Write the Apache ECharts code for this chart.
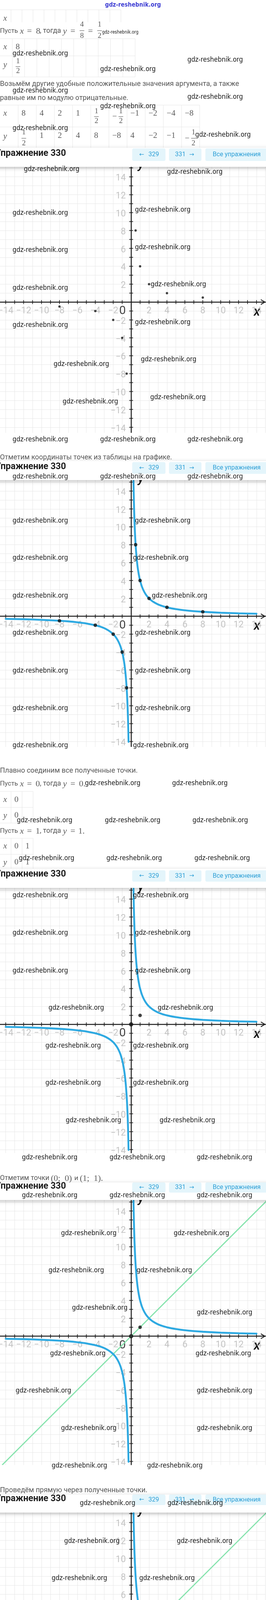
<!DOCTYPE html>
<html lang="ru"><head><meta charset="utf-8"><title>Упражнение 330</title>
<script src="https://cdn.jsdelivr.net/npm/echarts@6.0.0/dist/echarts.min.js"></script>
<style>html,body{margin:0;padding:0;background:#fff}.part{width:680px;display:block}</style>
</head><body><div id="p0" class="part" style="height:2990px"></div><div id="p1" class="part" style="height:2444px"></div>
<script>
// ---------------- DATA ----------------
const tableX = [8, 4, 2, 1, 0.5, -0.5, -1, -2, -4, -8];
const tableY = [0.5, 1, 2, 4, 8, -8, -4, -2, -1, -0.5];
const hyperPosX = [0.245, 0.26, 0.28, 0.3, 0.33, 0.36, 0.4, 0.45, 0.5, 0.6, 0.7, 0.8, 0.9, 1, 1.2, 1.4, 1.6, 1.8, 2, 2.3, 2.6, 3, 3.5, 4, 5, 6, 7, 8, 10, 12, 14];
const hyperPosY = [16.33, 15.38, 14.29, 13.33, 12.12, 11.11, 10, 8.89, 8, 6.67, 5.71, 5, 4.44, 4, 3.33, 2.86, 2.5, 2.22, 2, 1.74, 1.54, 1.33, 1.14, 1, 0.8, 0.67, 0.57, 0.5, 0.4, 0.33, 0.29];
const hyperNegX = [-14, -12, -10, -8, -7, -6, -5, -4, -3.5, -3, -2.6, -2.3, -2, -1.8, -1.6, -1.4, -1.2, -1, -0.9, -0.8, -0.7, -0.6, -0.5, -0.45, -0.4, -0.36, -0.33, -0.3, -0.285];
const hyperNegY = [-0.29, -0.33, -0.4, -0.5, -0.57, -0.67, -0.8, -1, -1.14, -1.33, -1.54, -1.74, -2, -2.22, -2.5, -2.86, -3.33, -4, -4.44, -5, -5.71, -6.67, -8, -8.89, -10, -11.11, -12.12, -13.33, -14.04];
const lineX = [-14.4, 15.5];
const lineY = [-14.4, 15.5];
const markX = [0, 1];
const markY = [0, 1];
const interX = [2, -2];
const interY = [2, -2];
const interNames = ['A(2;2)', 'B(-2;-2)'];
const xTicks = [-14, -13, -12, -11, -10, -9, -8, -7, -6, -5, -4, -3, -2, -1, 1, 2, 3, 4, 5, 6, 7, 8, 9, 10, 11, 12, 13, 14];
const yTicks = [-14, -13, -12, -11, -10, -9, -8, -7, -6, -5, -4, -3, -2, -1, 1, 2, 3, 4, 5, 6, 7, 8, 9, 10, 11, 12, 13, 14, 15, 16];
const xLabelVals = [-14, -12, -10, -8, -6, -4, -2, 2, 4, 6, 8, 10, 12, 14];
const yLabelVals = [-14, -12, -10, -8, -6, -4, -2, 2, 4, 6, 8, 10, 12, 14, 16];
const originLabel = [0, 0];
// table texts
const table2X = ['8'];
const table2Y = ['1/2'];
const table3X = ['8', '4', '2', '1', '1/2', '−1/2', '−1', '−2', '−4', '−8'];
const table3Y = ['1/2', '1', '2', '4', '8', '−8', '4', '−2', '−1', '−1/2'];
const table4X = ['0'];
const table4Y = ['0'];
const table5X = ['0', '1'];
const table5Y = ['0', '1'];

// ---------------- STYLE / LAYOUT ----------------
const SANS = "Roboto, 'Noto Sans', sans-serif";
const SERIF = "'Liberation Serif', 'DejaVu Serif', serif";
const NARROW = "'Liberation Sans Narrow', 'DejaVu Sans Condensed', 'Noto Sans', sans-serif";
const ARROWF = "'DejaVu Sans', sans-serif";
const TXT = '#555';
const MC = '#5a5a5a';
const BORDER = '#e6e6e6';
const BLUE = '#2ea9e1';
const GREEN = '#86e3ad';
const AXIS = '#1c1c1c';
const LBL = '#b5b5b5';
const GRIDC = '#e7e7e7';
const U = 22.9, X0 = 335.2;
const CHEV = 'path://M0,10 L6,0 L12,10 L10.4,11 L6,3.4 L1.6,11 Z';
const PARTS = [[0, 2990], [2990, 5434]];

const mctx = document.createElement('canvas').getContext('2d');
function fitSize(text, pre, family, target) {
  mctx.font = (pre ? pre + ' ' : '') + '100px ' + family;
  const w = mctx.measureText(text).width || 1;
  return 100 * target / w;
}

const EL = [];
function T(x, y, text, font, fill, align, z) {
  EL.push({py: y, el: {type: 'text', x: x, y: y, z: z || 100, silent: true,
    style: {text: text, font: font, fill: fill, align: align || 'left', verticalAlign: 'middle',
            textAlign: align || 'left', textVerticalAlign: 'middle'}}});
}
function L(x1, y1, x2, y2, stroke, w, z) {
  EL.push({py: y1, el: {type: 'line', z: z || 100, silent: true, shape: {x1: x1, y1: y1, x2: x2, y2: y2}, style: {stroke: stroke, lineWidth: w}}});
}
function R(x, y, w, h, style, z, r) {
  EL.push({py: y, el: {type: 'rect', z: z || 100, silent: true, shape: {x: x, y: y, width: w, height: h, r: r || 0}, style: style}});
}
function S(x, y, text, target, pre, z) {
  const s = fitSize(text, pre || '', SANS, target);
  T(x, y, text, (pre ? pre + ' ' : '') + s.toFixed(2) + 'px ' + SANS, TXT, 'left', z);
}
const WMS = fitSize('gdz-reshebnik.org', '', NARROW, 142);
function W(x, y, size) {
  const s = size || WMS;
  T(x, y, 'gdz-reshebnik.org', s.toFixed(2) + 'px ' + NARROW, '#111', 'left', 120);
}
const MI = 'italic 22px ' + SERIF, MU = '22px ' + SERIF, TF = '21px ' + SERIF, TI = 'italic 21px ' + SERIF;
function F(cx, yn, yd, num, den, size, fill) {
  T(cx, yn, num, size + 'px ' + SERIF, fill, 'center');
  T(cx, yd, den, size + 'px ' + SERIF, fill, 'center');
  const yb = (yn + yd) / 2 + 1;
  L(cx - 6, yb, cx + 6, yb, fill, 1.1);
}
function cellVal(left, v, ys, yn, yd) {
  const x = left + 8.5;
  const neg = v.charAt(0) === '−';
  if (v.indexOf('/') >= 0) {
    let off = x;
    if (neg) { T(off, (yn + yd) / 2 + 1, '−', TF, MC); off += 16; }
    const parts = v.replace('−', '').split('/');
    F(off + 6, yn, yd, parts[0], parts[1], 19, MC);
  } else {
    T(x, ys, v, TF, MC);
  }
}
function tableLines(rows, colW, nCols, top, bottom) {
  rows.forEach(function (y) { L(0, y, colW * nCols, y, BORDER, 1, 90); });
  for (let c = 1; c <= nCols; c++) L(c * colW, top, c * colW, bottom, BORDER, 1, 90);
}

// ---- top title
T(340, 13, 'gdz-reshebnik.org', 'bold ' + fitSize('gdz-reshebnik.org', 'bold', NARROW, 143).toFixed(2) + 'px ' + NARROW, '#3d3dd3', 'center', 120);

// ---- table 1 (only x row visible)
tableLines([25], 28.1, 11, 25, 57);
T(8.5, 47, 'x', TI, MC);

// ---- "Пусть x = 8, тогда y = 4/8 = 1/2"
S(0, 80, 'Пусть', 46);
T(51, 80, 'x', MI, MC); T(69, 80, '=', MU, MC); T(92, 80, '8', MU, MC);
S(102, 80, ', тогда', 54);
T(161, 80, 'y', MI, MC); T(180, 80, '=', MU, MC);
F(209.5, 63, 92, '4', '8', 19, MC);
T(225, 80, '=', MU, MC);
F(254.5, 63, 92, '1', '2', 19, MC);
W(261, 83, WMS * 93 / 142);

// ---- table 2
tableLines([99, 143, 197], 31.4, 11, 99, 197);
T(8.5, 120, 'x', TI, MC); T(8.5, 166, 'y', TI, MC);
table2X.forEach(function (v, i) { cellVal(31.4 * (i + 1), v, 120, 0, 0); });
table2Y.forEach(function (v, i) { cellVal(31.4 * (i + 1), v, 166, 157, 182); });

// ---- paragraph
S(0, 215, 'Возьмём другие удобные положительные значения аргумента, а также', 611);
S(0, 252, 'равные им по модулю отрицательные.', 328);

// ---- table 3
tableLines([269, 325, 381], 46.4, 11, 269, 381);
T(8.5, 290, 'x', TI, MC); T(8.5, 349, 'y', TI, MC);
table3X.forEach(function (v, i) { cellVal(46.4 * (i + 1), v, 290, 285, 310); });
table3Y.forEach(function (v, i) { cellVal(46.4 * (i + 1), v, 347, 339, 367); });

// ---- graph definitions (axisY = page y of the x axis)
const graphs = [
  {axisY: 773.3, bottom: 14.62, dots: 6},
  {axisY: 1577.7, bottom: 14.6, curve: true, dots: 9},
  {axisY: 2622.3, bottom: 14.4, curve: true, marks: true},
  {axisY: 3420.7, bottom: 14.4, curve: true, line: true, marks: true},
  {axisY: 4218.3, bottom: 14.4, curve: true, line: true, inter: true},
  {axisY: 5018, bottom: 14.54, curve: true, line: true, inter: true}
];

function minus(v) { return v < 0 ? '−' + (-v) : String(v); }
function zip(a, b) { return a.map(function (x, i) { return [x, b[i]]; }); }

function buildGraph(g, i, y0, opt) {
  opt.grid.push({left: X0 - 15 * U, top: g.axisY - y0 - 16.85 * U, width: 30 * U, height: 31.85 * U,
              containLabel: false, outerBoundsMode: 'none', show: false});
  opt.xAxis.push({gridIndex: i, type: 'value', min: -15, max: 15, interval: 1,
    axisLine: {onZero: true, lineStyle: {color: AXIS, width: 2.5}, symbol: ['none', CHEV], symbolSize: [24, 13], symbolOffset: [0, -6]},
    axisTick: {show: false}, axisLabel: {show: false},
    splitLine: {show: true, lineStyle: {color: GRIDC, width: 1}},
    name: 'x', nameLocation: 'end', nameGap: -30,
    nameTextStyle: {fontSize: 33, fontStyle: 'italic', fontWeight: 500, fontFamily: SANS, color: '#111', align: 'left', verticalAlign: 'top', padding: [10, 0, 0, 0]}
  });
  opt.yAxis.push({gridIndex: i, type: 'value', min: -15, max: 16.85, interval: 1,
    axisLine: {onZero: true, lineStyle: {color: AXIS, width: 2.5}, symbol: ['none', CHEV], symbolSize: [24, 13], symbolOffset: [0, -9]},
    axisTick: {show: false}, axisLabel: {show: false},
    splitLine: {show: true, lineStyle: {color: GRIDC, width: 1}},
    name: 'y', nameLocation: 'end', nameGap: -35,
    nameTextStyle: {fontSize: 33, fontStyle: 'italic', fontWeight: 500, fontFamily: SANS, color: '#111', align: 'left', verticalAlign: 'middle', padding: [0, 0, 0, 17]}
  });
  const base = {xAxisIndex: i, yAxisIndex: i, silent: true, animation: false};
  const s = opt.series;
  s.push(Object.assign({type: 'scatter', data: xTicks.map(function (v) { return [v, 0]; }), symbol: 'rect', symbolSize: [2.2, 10], itemStyle: {color: AXIS}, z: 2}, base));
  s.push(Object.assign({type: 'scatter', data: yTicks.map(function (v) { return [0, v]; }), symbol: 'rect', symbolSize: [10, 2.2], itemStyle: {color: AXIS}, z: 2}, base));
  s.push(Object.assign({type: 'scatter', data: xLabelVals.map(function (v) { return [v, 0]; }), symbolSize: 1, itemStyle: {color: 'rgba(0,0,0,0)'},
    label: {show: true, position: 'bottom', distance: 11, formatter: function (p) { return minus(p.value[0]); }, color: LBL, fontSize: 23, fontFamily: SANS}, z: 1}, base));
  s.push(Object.assign({type: 'scatter', data: yLabelVals.map(function (v) { return [0, v]; }), symbolSize: 1, itemStyle: {color: 'rgba(0,0,0,0)'},
    label: {show: true, position: 'left', distance: 13, offset: [0, 4], formatter: function (p) { return minus(p.value[1]); }, color: LBL, fontSize: 23, fontFamily: SANS}, z: 1}, base));
  s.push(Object.assign({type: 'scatter', data: [originLabel], symbolSize: 1, itemStyle: {color: 'rgba(0,0,0,0)'},
    label: {show: true, position: 'bottom', distance: 8, offset: [-22, 0], formatter: '0', color: '#111', fontSize: 30, fontFamily: SANS}, z: 1}, base));
  if (g.line) {
    s.push(Object.assign({type: 'line', data: zip(lineX, lineY), showSymbol: false, lineStyle: {color: GREEN, width: 3}, z: 3}, base));
  }
  if (g.curve) {
    [[hyperPosX, hyperPosY], [hyperNegX, hyperNegY]].forEach(function (p) {
      s.push(Object.assign({type: 'line', data: zip(p[0], p[1]), smooth: 0.35, showSymbol: false,
        lineStyle: {color: BLUE, width: 4.8, cap: 'round'}, z: 4}, base));
    });
  }
  if (g.dots) {
    s.push(Object.assign({type: 'scatter', data: zip(tableX, tableY), symbolSize: g.dots, itemStyle: {color: '#111'}, z: 5}, base));
  }
  if (g.marks) {
    s.push(Object.assign({type: 'scatter', data: zip(markX, markY), symbolSize: function (v) { return v[0] === 0 ? 11 : 9; }, itemStyle: {color: '#111'}, z: 5}, base));
  }
  if (g.inter) {
    const place = [{position: 'right', offset: [8, 6]}, {position: 'left', offset: [0, 13]}];
    s.push(Object.assign({type: 'scatter', symbolSize: 9,
      data: zip(interX, interY).map(function (v, k) { return {value: v, name: interNames[k], label: place[k]}; }),
      itemStyle: {color: '#7d7d7d', borderColor: '#222', borderWidth: 1.5},
      label: {show: true, formatter: function (p) { return p.name; }, fontFamily: SERIF, fontWeight: 'bold', fontSize: 14, color: '#111'},
      z: 5}, base));
  }
}
graphs.forEach(function (g, i) {
  if (i < 5) R(-5, g.axisY + g.bottom * U, 690, 0.5 * U + 6, {fill: '#fff'}, 50);
});

// ---- headers
function header(top, bottom, textY, bTop, bBot) {
  R(-10, top, 700, bottom - top, {fill: '#fff', shadowBlur: 10, shadowColor: 'rgba(0,0,0,0.25)', shadowOffsetY: 3}, 100);
  T(-12, textY, 'Упражнение 330', 'bold 23px ' + SANS, '#1c1c1c', 'left', 101);
  const cy = (bTop + bBot) / 2;
  [[338, 423], [432, 515], [525, 700]].forEach(function (b) {
    R(b[0], bTop, b[1] - b[0], bBot - bTop, {fill: '#e4f5fb'}, 101, 4);
  });
  const BC = '#2d9fd6', BF = '16px ' + SANS;
  T(362, cy, '←', '15px ' + ARROWF, BC, 'center', 102);
  T(393, cy, '329', BF, BC, 'center', 102);
  T(461, cy, '331', BF, BC, 'center', 102);
  T(490, cy, '→', '15px ' + ARROWF, BC, 'center', 102);
  T(605, cy, 'Все упражнения', BF, BC, 'center', 102);
}
header(378, 427, 393, 380, 412);
header(1180, 1229, 1195, 1183, 1213);
header(2224, 2273, 2238, 2228, 2257);
header(3027, 3072, 3037, 3027, 3053);
header(3826, 3872, 3837, 3826, 3853);

// ---- paragraphs between graphs
S(0, 1172, 'Отметим координаты точек из таблицы на графике.', 440);
S(0, 1973, 'Плавно соединим все полученные точки.', 352);
S(0, 2007, 'Пусть', 46);
T(51, 2007, 'x', MI, MC); T(69, 2007, '=', MU, MC); T(91, 2007, '0', MU, MC);
S(102, 2007, ', тогда', 54);
T(161, 2007, 'y', MI, MC); T(180, 2007, '=', MU, MC); T(202, 2007, '0.', MU, MC);
tableLines([2026, 2067, 2107], 28.2, 3, 2026, 2107);
T(8.5, 2047, 'x', TI, MC); T(8.5, 2088, 'y', TI, MC);
table4X.forEach(function (v, i) { cellVal(28.2 * (i + 1), v, 2047, 0, 0); });
table4Y.forEach(function (v, i) { cellVal(28.2 * (i + 1), v, 2087, 0, 0); });
S(0, 2128, 'Пусть', 46);
T(51, 2128, 'x', MI, MC); T(69, 2128, '=', MU, MC); T(91, 2128, '1', MU, MC);
S(102, 2128, ', тогда', 54);
T(161, 2128, 'y', MI, MC); T(180, 2128, '=', MU, MC); T(200, 2128, '1.', MU, MC);
tableLines([2146, 2187, 2227], 28.2, 3, 2146, 2227);
T(8.5, 2166, 'x', TI, MC); T(8.5, 2208, 'y', TI, MC);
table5X.forEach(function (v, i) { cellVal(28.2 * (i + 1), v, 2166, 0, 0); });
table5Y.forEach(function (v, i) { cellVal(28.2 * (i + 1), v, 2207, 0, 0); });
S(0, 3017, 'Отметим точки', 126);
T(130, 3017, '(0;  0)', MU, MC); S(190, 3017, 'и', 10); T(204, 3017, '(1;  1).', MU, MC);
S(0, 3815, 'Проведём прямую через полученные точки.', 377);
S(0, 4613, 'Графики пересекаются в точках', 273);
T(278, 4613, 'A', MI, MC); T(299, 4613, '(2;  2)', MU, MC); S(358, 4613, 'и', 10);
T(373, 4613, 'B', MI, MC); T(397, 4613, '(−2;  −2).', MU, MC);
R(-5, 5351, 690, 90, {fill: '#dff8ec'}, 60);
S(0, 5420, 'Графики пересекаются в точках', 295, '', 61);
T(301, 5420, 'A', 'italic 24px ' + SERIF, MC, 'left', 61); T(323, 5420, '(2;  2)', '24px ' + SERIF, MC, 'left', 61);
S(382, 5420, 'и', 11, '', 61);
T(401, 5420, 'B', 'italic 24px ' + SERIF, MC, 'left', 61); T(427, 5420, '(−2;  −2).', '24px ' + SERIF, MC, 'left', 61);
L(0, 4632, 680, 4632, '#e2e2e2', 1, 1);

// ---- watermarks
const WM = [
 [32,137],[479,153],[256,177],[32,232],[479,248],[256,272],[32,328],[499,345],
 [61,433],[427,440],[32,545],[345,537],[32,640],[345,633],[32,737],[385,728],[32,832],[345,825],[137,932],[360,920],[160,1028],[384,1017],
 [32,1125],[256,1125],[479,1125],[32,1220],[256,1220],[479,1220],
 [32,1333],[345,1333],[32,1428],[340,1428],[32,1525],[388,1525],[32,1620],[345,1620],[32,1717],[345,1717],[32,1813],[345,1813],[32,1908],[340,1908],
 [217,2005],[440,2005],[43,2100],[268,2100],[492,2100],[48,2197],[272,2197],[497,2197],
 [32,2292],[340,2292],[32,2388],[345,2388],[32,2485],[345,2485],[124,2580],[403,2580],[116,2677],[340,2677],[116,2772],[340,2772],[168,2868],[408,2868],
 [56,2963],[280,2963],[503,2963],[56,3060],[280,3060],[503,3060],
 [156,3157],[444,3157],[124,3252],[349,3252],[184,3348],[503,3360],[128,3465],[500,3465],[40,3560],[503,3560],[156,3656],[503,3656],[132,3752],[376,3752],
 [204,3848],[428,3848],
 [164,3945],[452,3945],[132,4040],[356,4040],[160,4137],[503,4137],[160,4233],[500,4233],[68,4328],[503,4328],[280,4425],[503,4425],[56,4508],[503,4520],[280,4560],
 [503,4615],
 [68,4632],[483,4713],[184,4728],[148,4824],[372,4824],[164,4921],[503,4921],[160,5034],[500,5034],[68,5130],[503,5130],[184,5226],[503,5226],[152,5322],[503,5322]
];
WM.forEach(function (p) { W(p[0], p[1]); });

// ---- distribute into chart parts
PARTS.forEach(function (part, k) {
  const y0 = part[0], y1 = part[1];
  const opt = {animation: false, backgroundColor: '#fff', grid: [], xAxis: [], yAxis: [], series: [], graphic: {elements: []}};
  let gi = 0;
  graphs.forEach(function (g) {
    if (g.axisY >= y0 && g.axisY < y1) { buildGraph(g, gi, y0, opt); gi++; }
  });
  EL.forEach(function (e) {
    if (e.py < y0 || e.py >= y1) return;
    const el = JSON.parse(JSON.stringify(e.el));
    if (el.type === 'text') el.y -= y0;
    else if (el.type === 'rect') el.shape.y -= y0;
    else if (el.type === 'line') { el.shape.y1 -= y0; el.shape.y2 -= y0; }
    opt.graphic.elements.push(el);
  });
  const chart = echarts.init(document.getElementById('p' + k), null, {renderer: 'canvas', width: 680, height: y1 - y0});
  chart.setOption(opt);
});
</script></body></html>
